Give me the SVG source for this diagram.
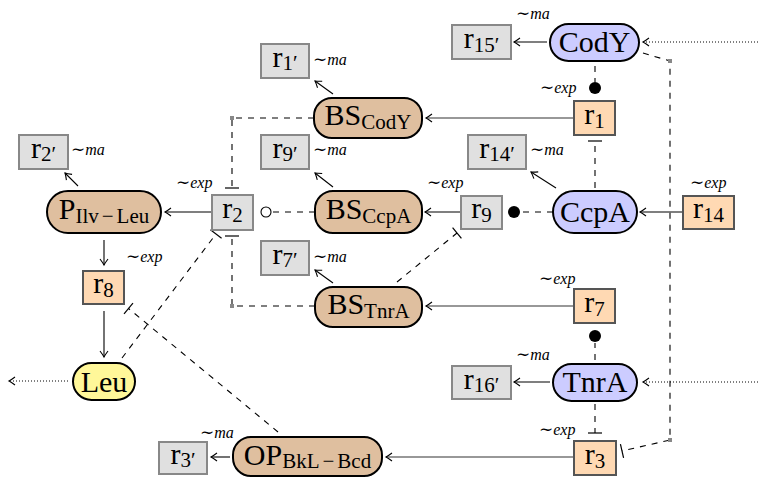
<svg xmlns="http://www.w3.org/2000/svg" width="758" height="477" viewBox="0 0 758 477">
<style>
.t{font-family:"Liberation Serif","DejaVu Serif",serif;font-size:30px;fill:#000;text-anchor:middle}
.s{font-size:21px}
.an{font-family:"Liberation Serif","DejaVu Serif",serif;font-size:16px;font-style:italic;fill:#000}
.sim{font-family:"DejaVu Serif",serif;font-style:normal;font-size:17px}
.prot{fill:#ccccff;stroke:#000;stroke-width:2}
.bs{fill:#dfbf9f;stroke:#000;stroke-width:2}
.leu{fill:#fff799;stroke:#000;stroke-width:2}
.rg{fill:#e0e0e0;stroke:#888;stroke-width:2}
.ro{fill:#ffd9b3;stroke:#555;stroke-width:2}
.ln{fill:none;stroke:#000;stroke-width:1.1}
.lg{fill:none;stroke:#333;stroke-width:1.2}
.da{fill:none;stroke:#000;stroke-width:1.1;stroke-dasharray:6 6}
.dt{fill:none;stroke:#000;stroke-width:1;stroke-dasharray:1 2}
.sq{fill:#888}
</style>
<defs>
<marker id="a" viewBox="-8 -6 10 12" refX="0" refY="0" markerWidth="10" markerHeight="12" markerUnits="userSpaceOnUse" orient="auto">
<path d="M-6,-4 Q-2,-1 0,0 Q-2,1 -6,4" fill="none" stroke="#000" stroke-width="1.1"/>
</marker>
<marker id="b" viewBox="-2 -8 4 16" refX="0" refY="0" markerWidth="4" markerHeight="16" markerUnits="userSpaceOnUse" orient="auto">
<path d="M0,-7 V7" fill="none" stroke="#000" stroke-width="1.2"/>
</marker>
</defs>
<g id="connectors">
<path class="ln" d="M547,42 H514" marker-end="url(#a)"/>
<path class="dt" d="M758,42 H643" marker-end="url(#a)"/>
<path class="da" d="M595,66 V82"/>
<circle cx="595" cy="88" r="6" fill="#000"/>
<path class="da" d="M643,53 L670,61 V440 L622,451" marker-end="url(#b)"/>
<rect class="sq" x="668" y="59" width="4" height="4"/>
<rect class="sq" x="668" y="438" width="4" height="4"/>
<path class="lg" d="M573,118 H426" marker-end="url(#a)"/>
<path class="ln" d="M333,94 L315,81" marker-end="url(#a)"/>
<path class="da" d="M314,118 H232 V188" marker-end="url(#b)"/>
<rect class="sq" x="230" y="116" width="4" height="4"/>
<path class="ln" d="M333,187 L315,173" marker-end="url(#a)"/>
<path class="ln" d="M460,212 H425" marker-end="url(#a)"/>
<path class="da" d="M553,212 H520"/>
<circle cx="514" cy="212" r="6" fill="#000"/>
<path class="ln" d="M556,188 L531,172" marker-end="url(#a)"/>
<path class="da" d="M595,188 V141" marker-end="url(#b)"/>
<path class="ln" d="M683,212 H640" marker-end="url(#a)"/>
<path class="da" d="M315,212 H271"/>
<circle cx="266" cy="212" r="5" fill="#fff" stroke="#000" stroke-width="1.1"/>
<path class="ln" d="M212,212 H165" marker-end="url(#a)"/>
<path class="ln" d="M333,283 L315,270" marker-end="url(#a)"/>
<path class="da" d="M315,306 H232 V236" marker-end="url(#b)"/>
<rect class="sq" x="230" y="304" width="4" height="4"/>
<path class="da" d="M397,282 L457,233" marker-end="url(#b)"/>
<path class="lg" d="M573,306 H426" marker-end="url(#a)"/>
<path class="da" d="M595,360 V343"/>
<circle cx="595" cy="336" r="6" fill="#000"/>
<path class="ln" d="M550,382 H514" marker-end="url(#a)"/>
<path class="dt" d="M758,382 H643" marker-end="url(#a)"/>
<path class="da" d="M595,404 V433" marker-end="url(#b)"/>
<path class="lg" d="M573,457 H386" marker-end="url(#a)"/>
<path class="ln" d="M230,457 H211" marker-end="url(#a)"/>
<path class="ln" d="M78,186 L65,173" marker-end="url(#a)"/>
<path class="ln" d="M104,240 V265" marker-end="url(#a)"/>
<path class="ln" d="M104,311 V357" marker-end="url(#a)"/>
<path class="dt" d="M68,381 H9" marker-end="url(#a)"/>
<path class="da" d="M122,358 L216,234" marker-end="url(#b)"/>
<path class="da" d="M278,432 L128.5,308.5" marker-end="url(#b)"/>
</g>
<g id="CodY"><rect class="prot" x="550" y="24" width="89" height="37" rx="18.5"/><text class="t" x="594.5" y="52">CodY</text></g>
<g id="r15p"><rect class="rg" x="452" y="25" width="59" height="34"/><text class="t" x="481.5" y="48">r<tspan class="s" dy="4">15′</tspan></text></g>
<text class="an" x="516" y="19"><tspan class="sim">∼</tspan>ma</text>
<g id="r1"><rect class="ro" x="574" y="101" width="41" height="34"/><text class="t" x="594.5" y="123.5">r<tspan class="s" dy="4">1</tspan></text></g>
<text class="an" x="540" y="93"><tspan class="sim">∼</tspan>exp</text>
<g id="BSCodY"><rect class="bs" x="314" y="98" width="108" height="40" rx="18"/><text class="t" x="368" y="125">BS<tspan class="s" dy="4">CodY</tspan></text></g>
<g id="r1p"><rect class="rg" x="261" y="44" width="48" height="34"/><text class="t" x="285" y="67">r<tspan class="s" dy="3">1′</tspan></text></g>
<text class="an" x="313" y="65"><tspan class="sim">∼</tspan>ma</text>
<g id="r9p"><rect class="rg" x="261" y="135" width="48" height="34"/><text class="t" x="285" y="158">r<tspan class="s" dy="3">9′</tspan></text></g>
<text class="an" x="313" y="155"><tspan class="sim">∼</tspan>ma</text>
<g id="BSCcpA"><rect class="bs" x="315" y="191" width="107" height="42" rx="18"/><text class="t" x="368.5" y="219">BS<tspan class="s" dy="4">CcpA</tspan></text></g>
<g id="r2"><rect class="rg" x="212" y="195" width="41" height="35"/><text class="t" x="232.5" y="218">r<tspan class="s" dy="4">2</tspan></text></g>
<text class="an" x="176" y="188"><tspan class="sim">∼</tspan>exp</text>
<g id="r7p"><rect class="rg" x="261" y="241" width="48" height="34"/><text class="t" x="285" y="264">r<tspan class="s" dy="3">7′</tspan></text></g>
<text class="an" x="313" y="262"><tspan class="sim">∼</tspan>ma</text>
<g id="BSTnrA"><rect class="bs" x="315" y="287" width="107" height="40" rx="18"/><text class="t" x="368.5" y="314">BS<tspan class="s" dy="4">TnrA</tspan></text></g>
<g id="r9"><rect class="rg" x="461" y="196" width="41" height="33"/><text class="t" x="481.5" y="218">r<tspan class="s" dy="4">9</tspan></text></g>
<text class="an" x="427" y="188"><tspan class="sim">∼</tspan>exp</text>
<g id="CcpA"><rect class="prot" x="553" y="191" width="84" height="42" rx="21"/><text class="t" x="595" y="222">CcpA</text></g>
<g id="r14p"><rect class="rg" x="468" y="135" width="58" height="34"/><text class="t" x="497" y="158">r<tspan class="s" dy="3">14′</tspan></text></g>
<text class="an" x="530" y="155"><tspan class="sim">∼</tspan>ma</text>
<g id="r14"><rect class="ro" x="683" y="196" width="51" height="33"/><text class="t" x="708.5" y="218">r<tspan class="s" dy="4">14</tspan></text></g>
<text class="an" x="690" y="188"><tspan class="sim">∼</tspan>exp</text>
<g id="r2p"><rect class="rg" x="19" y="135" width="49" height="34"/><text class="t" x="43.5" y="158">r<tspan class="s" dy="3">2′</tspan></text></g>
<text class="an" x="71" y="155"><tspan class="sim">∼</tspan>ma</text>
<g id="PIlvLeu"><rect class="bs" x="47" y="191" width="114" height="42" rx="21"/><text class="t" x="104" y="219">P<tspan class="s" dy="4">Ilv</tspan><tspan class="s" dx="3">−</tspan><tspan class="s" dx="3">Leu</tspan></text></g>
<g id="r8"><rect class="ro" x="83" y="271" width="41" height="33"/><text class="t" x="103.5" y="293">r<tspan class="s" dy="4">8</tspan></text></g>
<text class="an" x="126" y="262"><tspan class="sim">∼</tspan>exp</text>
<g id="Leu"><rect class="leu" x="73" y="363" width="62" height="37" rx="18.5"/><text class="t" x="104" y="391.5">Leu</text></g>
<g id="OPBkLBcd"><rect class="bs" x="233" y="437" width="149" height="39" rx="18"/><text class="t" x="307.5" y="465">OP<tspan class="s" dy="3">BkL</tspan><tspan class="s" dx="3">−</tspan><tspan class="s" dx="3">Bcd</tspan></text></g>
<g id="r3p"><rect class="rg" x="159" y="442" width="48" height="32"/><text class="t" x="183" y="464">r<tspan class="s" dy="3">3′</tspan></text></g>
<text class="an" x="200" y="438"><tspan class="sim">∼</tspan>ma</text>
<g id="r7"><rect class="ro" x="574" y="289" width="41" height="34"/><text class="t" x="594.5" y="311.5">r<tspan class="s" dy="4">7</tspan></text></g>
<text class="an" x="539" y="284"><tspan class="sim">∼</tspan>exp</text>
<g id="TnrA"><rect class="prot" x="553" y="364" width="84" height="37" rx="18.5"/><text class="t" x="595" y="392">TnrA</text></g>
<g id="r16p"><rect class="rg" x="452" y="366" width="59" height="33"/><text class="t" x="481.5" y="388.5">r<tspan class="s" dy="3">16′</tspan></text></g>
<text class="an" x="516" y="360"><tspan class="sim">∼</tspan>ma</text>
<g id="r3"><rect class="ro" x="574" y="441" width="42" height="34"/><text class="t" x="595" y="463.5">r<tspan class="s" dy="4">3</tspan></text></g>
<text class="an" x="539" y="435"><tspan class="sim">∼</tspan>exp</text>
</svg>
